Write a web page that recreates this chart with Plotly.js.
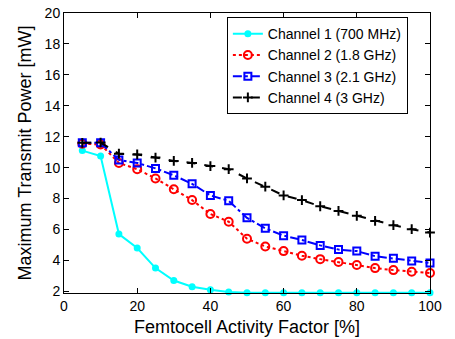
<!DOCTYPE html>
<html>
<head>
<meta charset="utf-8">
<script src="https://cdn.plot.ly/plotly-3.0.1.min.js"></script>
<style>html,body{margin:0;padding:0;background:#fff;}#plot{width:455px;height:339px;}</style>
</head>
<body>
<div id="plot"></div>
<script>
const activity = [5,10,15,20,25,30,35,40,45,50,55,60,65,70,75,80,85,90,95,100];
const ch1 = [11.1,10.75,5.7,4.8,3.5,2.7,2.3,2.1,1.95,1.9,1.9,1.9,1.9,1.9,1.9,1.9,1.9,1.9,1.9,1.9];
const ch2 = [11.55,11.5,10.3,9.9,9.3,8.6,7.9,7.0,6.5,5.4,4.9,4.6,4.3,4.08,3.9,3.7,3.5,3.37,3.26,3.18];
const ch3 = [11.6,11.6,10.5,10.3,9.95,9.5,8.95,8.2,7.85,6.75,6.07,5.6,5.32,4.97,4.7,4.6,4.27,4.13,3.96,3.83];
const ch4 = [11.6,11.62,10.9,10.85,10.65,10.43,10.3,10.1,9.9,9.3,8.77,8.2,7.9,7.5,7.2,6.88,6.55,6.28,6.02,5.8];
const names = ["Channel 1 (700 MHz)","Channel 2 (1.8 GHz)","Channel 3 (2.1 GHz)","Channel 4 (3 GHz)"];
const xTicks = [0,20,40,60,80,100];
const yTicks = [2,4,6,8,10,12,14,16,18,20];

const font = "Liberation Sans, Arial, Helvetica, sans-serif";
const traces = [
  {x: activity, y: ch1, name: names[0], mode: "lines+markers", cliponaxis: false,
   line: {color: "#00ffff", width: 2, dash: "solid"},
   marker: {symbol: "circle", size: 7, color: "#00ffff"}},
  {x: activity, y: ch2, name: names[1], mode: "lines+markers", cliponaxis: false,
   line: {color: "#ff0000", width: 2, dash: "dot"},
   marker: {symbol: "circle-open", size: 8, color: "#ff0000", line: {width: 2, color: "#ff0000"}}},
  {x: activity, y: ch3, name: names[2], mode: "lines+markers", cliponaxis: false,
   line: {color: "#0000ff", width: 2, dash: "dashdot"},
   marker: {symbol: "square-open", size: 7, color: "#0000ff", line: {width: 2, color: "#0000ff"}}},
  {x: activity, y: ch4, name: names[3], mode: "lines+markers", cliponaxis: false,
   line: {color: "#000000", width: 2, dash: "dash"},
   marker: {symbol: "cross-thin-open", size: 7, color: "#000000", line: {width: 2, color: "#000000"}}}
];

const layout = {
  width: 455, height: 339,
  margin: {l: 64, r: 25, t: 13, b: 46},
  paper_bgcolor: "#fff", plot_bgcolor: "#fff",
  font: {family: font, size: 14, color: "#000"},
  showlegend: true,
  legend: {x: 0.445, y: 0.985, xanchor: "left", yanchor: "top",
           bgcolor: "#fff", bordercolor: "#000", borderwidth: 1,
           font: {family: font, size: 14, color: "#000"}, tracegroupgap: 0},
  xaxis: {range: [0, 100], tickvals: xTicks, ticks: "inside", ticklen: 5, tickcolor: "#000",
          showline: true, linecolor: "#000", linewidth: 1, mirror: "ticks", showgrid: false, zeroline: false,
          tickfont: {size: 14},
          title: {text: "Femtocell Activity Factor [%]", font: {size: 18}, standoff: 7}},
  yaxis: {range: [1.89, 20], tickvals: yTicks, ticks: "inside", ticklen: 5, tickcolor: "#000",
          showline: true, linecolor: "#000", linewidth: 1, mirror: "ticks", showgrid: false, zeroline: false,
          tickfont: {size: 14},
          title: {text: "Maximum Transmit Power [mW]", font: {size: 18}, standoff: 8}}
};
Plotly.newPlot("plot", traces, layout, {displayModeBar: false, staticPlot: true});
</script>
</body>
</html>
